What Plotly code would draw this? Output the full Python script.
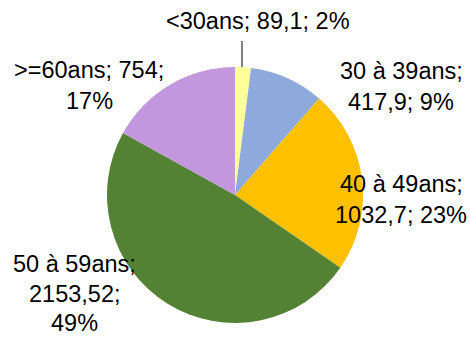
import plotly.graph_objects as go

W, H = 470, 338

# Data
categories = ["<30ans", "30 à 39ans", "40 à 49ans", "50 à 59ans", ">=60ans"]
values = [89.1, 417.9, 1032.7, 2153.52, 754]
percent_labels = ["2%", "9%", "23%", "49%", "17%"]
colors = ["#FFFF99", "#8EA9DB", "#FFC000", "#548235", "#C297DD"]


def fmt(v):
    return str(v).replace(".", ",")


# Pie geometry in pixels
cx, cy, r = 235, 195, 128

fig = go.Figure(
    go.Pie(
        labels=categories,
        values=values,
        sort=False,
        direction="clockwise",
        rotation=0,
        textinfo="none",
        hoverinfo="label+value+percent",
        marker=dict(colors=colors, line=dict(color="white", width=0)),
        domain=dict(
            x=[(cx - r) / W, (cx + r) / W],
            y=[(H - cy - r) / H, (H - cy + r) / H],
        ),
        showlegend=False,
    )
)

# Label text pieces per slice, and how they are broken into lines
parts = [[c, fmt(v), p] for c, v, p in zip(categories, values, percent_labels)]
line_groups = [
    [[0, 1, 2]],
    [[0], [1, 2]],
    [[0], [1, 2]],
    [[0], [1], [2]],
    [[0, 1], [2]],
]
# Label anchor (pixel centre of first line) and line spacing per label
anchors = [(258, 21), (401, 71), (401, 184), (74, 264), (89, 70)]
steps = [31, 31, 31, 29.5, 31]

annotations = []
for i, groups in enumerate(line_groups):
    ax, ay = anchors[i]
    for k, g in enumerate(groups):
        txt = "; ".join(parts[i][j] for j in g)
        if g[-1] != 2:
            txt += ";"
        annotations.append(
            dict(
                x=ax / W,
                y=1 - (ay + k * steps[i]) / H,
                xref="paper",
                yref="paper",
                text=txt,
                showarrow=False,
                xanchor="center",
                yanchor="middle",
                borderpad=0,
                font=dict(family="Liberation Sans, Arial, sans-serif", size=23.5, color="#000000"),
            )
        )

fig.update_layout(
    width=W,
    height=H,
    margin=dict(l=0, r=0, t=0, b=0),
    paper_bgcolor="white",
    plot_bgcolor="white",
    annotations=annotations,
    shapes=[
        dict(
            type="line",
            xref="paper",
            yref="paper",
            x0=242 / W,
            x1=242 / W,
            y0=1 - 41 / H,
            y1=1 - 67 / H,
            line=dict(color="#000000", width=1),
        )
    ],
)

fig.write_html("out.html")
